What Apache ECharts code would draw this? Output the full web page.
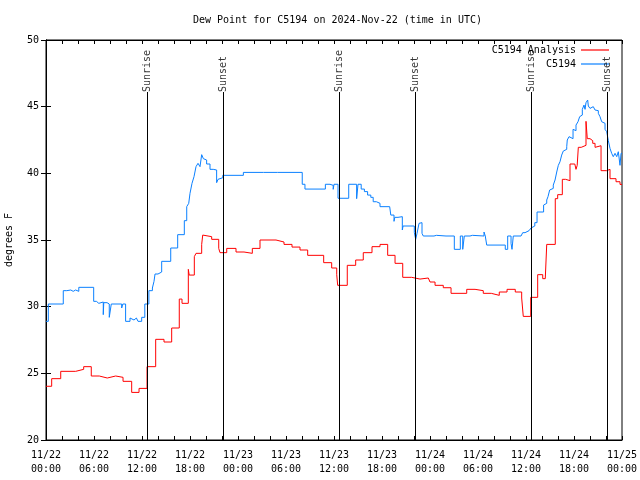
<!DOCTYPE html>
<html><head><meta charset="utf-8">
<script src="https://cdn.jsdelivr.net/npm/echarts@6/dist/echarts.min.js"></script>
<style>html,body{margin:0;padding:0;background:#fff}#c{width:640px;height:480px}</style>
</head><body><div id="c"></div>
<script>
// x axis in hours since 2024-11-22 00:00 UTC
const xTickLabels = ['11/22\n00:00','11/22\n06:00','11/22\n12:00','11/22\n18:00','11/23\n00:00','11/23\n06:00','11/23\n12:00','11/23\n18:00','11/24\n00:00','11/24\n06:00','11/24\n12:00','11/24\n18:00','11/25\n00:00'];
const sunHours = [12.67, 22.2, 36.67, 46.2, 60.67, 70.2];
const sunNames = ['Sunrise','Sunset','Sunrise','Sunset','Sunrise','Sunset'];
const sunLineTop = 46.1;

const analysisData = [[0,24.03],[0.71,24.6],[1.84,25.15],[3.71,25.3],[4.71,25.5],[5.66,24.8],[6.66,24.65],[7.66,24.8],[8.71,24.7],[9.63,24.4],[10.71,23.57],[11.63,23.87],[12.63,25.5],[13.71,27.55],[14.75,27.35],[15.71,28.4],[16.66,30.57],[17.0,30.25],[17.79,32.8],[17.9,32.37],[18.54,33.75],[18.75,34.0],[19.46,34.67],[19.59,35.37],[19.75,35.25],[20.71,35.05],[21.59,34.37],[21.75,34.05],[22.59,34.37],[23.75,34.1],[24.75,34.0],[25.79,34.37],[26.75,35.0],[28.75,34.85],[29.75,34.67],[30.75,34.47],[31.75,34.25],[32.71,33.85],[34.71,33.3],[35.71,32.9],[36.34,32.4],[36.46,31.6],[37.66,33.1],[38.71,33.5],[39.66,34.05],[40.75,34.5],[41.75,34.67],[42.71,33.85],[43.63,33.25],[44.59,32.2],[45.71,32.07],[46.75,32.15],[47.79,32.0],[48.0,31.85],[48.63,31.6],[49.66,31.42],[50.63,31.0],[52.59,31.3],[53.63,31.2],[54.66,31.0],[55.66,30.85],[56.66,31.1],[57.63,31.3],[58.66,31.1],[59.46,30.65],[59.66,29.27],[60.59,30.7],[61.46,32.4],[62.09,32.1],[62.41,32.25],[62.59,34.67],[63.66,38.1],[63.96,38.4],[64.54,39.55],[64.96,39.45],[65.5,40.7],[66.1,40.6],[66.25,40.3],[66.4,40.6],[66.54,41.95],[66.9,42.1],[67.5,43.9],[67.66,42.6],[68.0,42.45],[68.34,42.25],[68.63,41.95],[68.84,42.07],[69.38,40.2],[70.09,40.3],[70.5,39.6],[71.25,39.37],[71.75,39.17],[72,39.17]];

const stationData = [[0,28.9],[0.29,30.2],[2.16,31.2],[2.6,31.1],[2.8,31.25],[3.1,31.15],[3.4,31.25],[3.7,31.15],[4.1,31.45],[5.96,30.4],[6.3,30.25],[6.6,30.35],[7.16,29.4],[7.22,30.3],[7.63,30.2],[7.91,29.2],[8.16,30.2],[9.46,29.9],[9.6,30.2],[9.95,28.9],[10.5,29.15],[10.7,29.0],[11.0,29.15],[11.3,29.0],[11.5,28.9],[11.96,29.2],[12.35,30.2],[12.86,31.2],[13.3,31.4],[13.5,31.9],[13.63,32.45],[14.0,32.6],[14.46,33.4],[15.59,34.4],[16.46,35.4],[17.29,36.45],[17.59,37.5],[17.84,37.75],[18.0,38.5],[18.25,39.25],[18.5,39.75],[18.75,40.5],[19.0,40.75],[19.25,40.5],[19.46,41.4],[19.67,41.1],[19.87,41.0],[20.08,40.7],[20.5,40.3],[20.9,40.25],[21.33,39.3],[21.5,39.55],[21.75,39.67],[22.1,39.85],[24.67,40.07],[25.0,40.0],[25.2,40.07],[27.2,40.0],[27.4,40.07],[28.96,39.95],[29.1,40.07],[32.03,39.18],[32.37,38.82],[34.92,39.18],[35.5,39.1],[35.9,38.8],[36.0,39.18],[36.5,38.13],[37.84,39.18],[38.83,38.1],[39.0,39.18],[39.4,38.82],[39.8,38.63],[40.2,38.37],[40.6,38.2],[40.9,37.87],[41.3,37.75],[41.75,37.5],[42.96,37.6],[43.1,36.87],[43.5,36.4],[43.6,36.7],[44.0,36.75],[44.54,35.75],[44.63,36.05],[46.04,35.57],[46.21,35.05],[46.38,35.5],[46.63,36.25],[46.88,36.3],[47.0,35.5],[47.16,35.3],[48.5,35.35],[48.8,35.3],[50.0,35.35],[50.2,35.3],[51.04,34.3],[51.79,35.3],[52.09,34.3],[52.29,35.3],[53.0,35.35],[53.3,35.3],[54.75,35.6],[54.91,35.3],[55.09,34.62],[57.41,34.3],[57.71,35.3],[58.13,34.75],[58.25,34.3],[58.41,35.3],[59.38,35.37],[59.59,35.55],[59.88,35.62],[60.1,35.7],[60.38,35.8],[60.63,35.9],[60.85,36.05],[61.1,36.3],[61.38,37.1],[62.2,37.62],[62.41,37.75],[62.59,38.0],[62.75,38.25],[62.96,38.75],[63.21,38.87],[63.41,39.12],[63.63,39.5],[63.84,40.1],[64.04,40.6],[64.25,40.87],[64.46,41.37],[64.66,41.67],[64.88,41.8],[65.09,42.0],[65.16,42.5],[65.38,42.75],[65.63,42.6],[65.88,43.3],[66.09,43.2],[66.25,43.62],[66.5,43.87],[66.71,44.25],[66.88,44.37],[67.04,44.8],[67.25,45.12],[67.38,44.8],[67.5,45.3],[67.71,45.5],[67.79,45.05],[68.0,44.87],[68.21,45.0],[68.41,44.87],[68.63,44.75],[68.84,44.7],[69.04,44.5],[69.25,44.25],[69.46,43.87],[69.66,43.75],[69.88,43.3],[70.09,43.12],[70.29,42.45],[70.5,41.87],[70.71,41.5],[70.91,41.25],[71.13,41.5],[71.34,41.25],[71.54,41.62],[71.75,40.6],[71.88,41.5],[72,41.5]];

const FONT = 'DejaVu Sans Mono';
const txt = {fontFamily: FONT, fontSize: 10, color: '#000'};
const chart = echarts.init(document.getElementById('c'), null, {renderer: 'canvas'});
const xCommon = {type: 'value', min: 0, max: 72, interval: 2,
  axisLine: {lineStyle: {color: '#000', width: 1}}, splitLine: {show: false},
  axisTick: {inside: true, length: 4, lineStyle: {color: '#000'}}};
const yCommon = {type: 'value', min: 20, max: 50, interval: 5,
  axisLine: {show: true, lineStyle: {color: '#000', width: 1}}, splitLine: {show: false},
  axisTick: {show: true, inside: true, length: 5, lineStyle: {color: '#000'}}};
chart.setOption({
  animation: false,
  backgroundColor: '#fff',
  title: {text: 'Dew Point for C5194 on 2024-Nov-22 (time in UTC)', left: 188, top: 10,
    textStyle: Object.assign({fontWeight: 'normal'}, txt)},
  grid: {left: 46, right: 18, top: 40, bottom: 40, containLabel: false, outerBoundsMode: 'none',
    show: true, borderColor: '#000', borderWidth: 1},
  legend: {data: ['C5194 Analysis', 'C5194'], orient: 'vertical', right: 26, top: 39,
    align: 'right', icon: 'rect', itemWidth: 28, itemHeight: 1.2, itemGap: 2, textStyle: Object.assign({lineHeight: 12}, txt)},
  xAxis: [
    Object.assign({}, xCommon, {position: 'bottom',
      axisLabel: Object.assign({margin: 8, lineHeight: 14, showMinLabel: true, showMaxLabel: true,
        formatter: v => (v % 6 === 0 ? xTickLabels[v / 6] : '')}, txt)}),
    Object.assign({}, xCommon, {position: 'top', axisLabel: {show: false}})
  ],
  yAxis: [
    Object.assign({}, yCommon, {position: 'left', name: 'degrees F', nameLocation: 'middle', nameGap: 32,
      nameTextStyle: txt, axisLabel: Object.assign({margin: 7}, txt)}),
    Object.assign({}, yCommon, {position: 'right', axisLabel: {show: false}})
  ],
  series: [
    {name: 'C5194 Analysis', type: 'line', step: 'end', data: analysisData, symbol: 'none',
      lineStyle: {color: '#ff0000', width: 1}, itemStyle: {color: '#ff0000'}, z: 3},
    {name: 'C5194', type: 'line', step: 'end', data: stationData, symbol: 'none',
      lineStyle: {color: '#0a80ff', width: 1}, itemStyle: {color: '#0a80ff'}, z: 2},
    {name: 'sun', type: 'scatter', symbolSize: 0, silent: true, z: 4,
      data: sunHours.map(h => [h, sunLineTop]),
      label: Object.assign({show: true, formatter: p => sunNames[p.dataIndex], rotate: 90,
        position: 'inside', align: 'left', verticalAlign: 'middle'}, txt),
      markLine: {silent: true, symbol: ['none', 'none'], label: {show: false},
        lineStyle: {color: '#000', width: 1, type: 'solid'},
        data: sunHours.map(h => [{coord: [h, 20]}, {coord: [h, sunLineTop]}])}}
  ]
});
</script></body></html>
